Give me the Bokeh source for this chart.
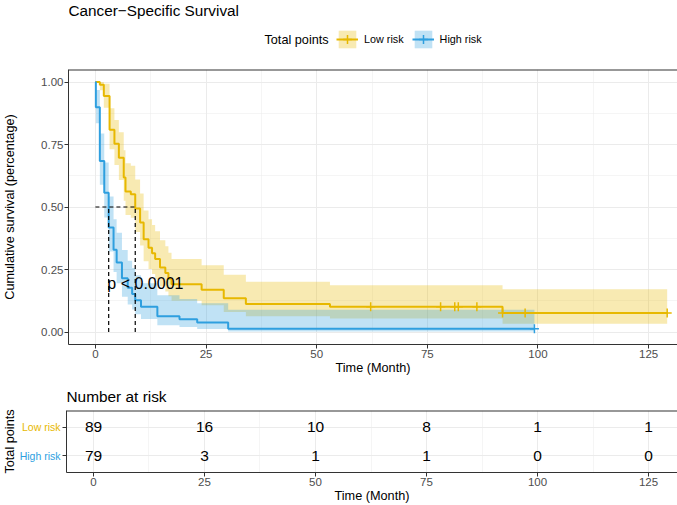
import numpy as np
from bokeh.plotting import figure
from bokeh.models import Range1d, FixedTicker, Label, Legend, LegendItem, Title, Span
from bokeh.layouts import column, row
from bokeh.embed import file_html
from bokeh.resources import INLINE
from bokeh.core.properties import value

# ---------------- data ----------------
title_text = "Cancer\u2212Specific Survival"
legend_title = "Total points"
group_names = ["Low risk", "High risk"]
colors = ["#E7B800", "#2E9FDF"]

low_time = [0, 1.0, 1.9, 3.2, 4.3, 5.3, 6.4, 6.8, 8.0, 9.0, 10.1, 10.9, 12.0, 12.8,
            13.5, 14.6, 15.8, 16.5, 17.2, 24.0, 29.0, 34.0, 53.0, 92.0]
low_surv = [1.0, 0.989, 0.944, 0.809, 0.753, 0.697, 0.618, 0.562, 0.551, 0.494, 0.438,
            0.371, 0.337, 0.315, 0.292, 0.258, 0.236, 0.213, 0.191, 0.169, 0.135, 0.112,
            0.101, 0.076]
low_lower = [1.0, 0.967, 0.897, 0.731, 0.668, 0.608, 0.525, 0.468, 0.457, 0.400, 0.346,
             0.283, 0.252, 0.232, 0.211, 0.182, 0.162, 0.143, 0.125, 0.107, 0.080, 0.063,
             0.054, 0.033]
low_upper = [1.0, 1.0, 0.993, 0.895, 0.848, 0.799, 0.727, 0.675, 0.665, 0.610, 0.554,
             0.486, 0.451, 0.428, 0.403, 0.367, 0.343, 0.317, 0.292, 0.267, 0.229, 0.201,
             0.187, 0.171]
low_end = 129.2
low_censor = [62.2, 78.0, 81.2, 82.0, 86.2, 92.0, 97.1, 129.2]

high_time = [0, 0.1, 1.0, 2.0, 3.0, 4.1, 4.8, 6.0, 7.3, 8.3, 9.0, 10.3, 14.0, 19.0, 23.0, 30.0]
high_surv = [1.0, 0.899, 0.684, 0.557, 0.418, 0.329, 0.278, 0.215, 0.177, 0.152, 0.127,
             0.101, 0.063, 0.051, 0.038, 0.013]
high_lower = [1.0, 0.835, 0.589, 0.458, 0.322, 0.240, 0.195, 0.141, 0.110, 0.090, 0.071,
              0.052, 0.027, 0.020, 0.0125, 0.002]
high_upper = [1.0, 0.968, 0.794, 0.678, 0.542, 0.451, 0.397, 0.328, 0.285, 0.256, 0.227,
              0.195, 0.147, 0.132, 0.115, 0.089]
high_end = 99.2
high_censor = [99.2]

median_low = 9.0
median_high = 3.0
pval_text = "p < 0.0001"

x_ticks = [0, 25, 50, 75, 100, 125]
x_minor = [12.5, 37.5, 62.5, 87.5, 112.5]
y_ticks = [0.0, 0.25, 0.5, 0.75, 1.0]
y_tick_labels = ["0.00", "0.25", "0.50", "0.75", "1.00"]
y_minor = [0.125, 0.375, 0.625, 0.875]

risk_times = [0, 25, 50, 75, 100, 125]
low_at_risk = [89, 16, 10, 8, 1, 1]
high_at_risk = [79, 3, 1, 1, 0, 0]

# ---------------- style / layout constants ----------------
FONT = "Liberation Sans"
X0, X1 = -6.08, 131.53
GRID = "#EBEBEB"
BORDER = "#333333"
TICKLAB = "#4D4D4D"
W = 677
LEFT = 66
HEAD_H = 61
MAIN_H = 317
TAB_H = 127
TAB_LEFT_W = 61


def style(p, y_top):
    # panel border: left/bottom from the axis lines, top from a span; the right
    # side of the panel is cut off by the picture edge in the reference
    p.outline_line_color = None
    p.background_fill_color = "white"
    p.border_fill_color = "white"
    p.add_layout(Span(location=y_top, dimension="width", line_color=BORDER, line_width=2))
    for ax in (p.xaxis[0], p.yaxis[0]):
        ax.major_tick_out = 4
        ax.major_tick_in = 0
        ax.minor_tick_out = 0
        ax.minor_tick_in = 0
        ax.minor_tick_line_color = None
        ax.major_tick_line_color = BORDER
        ax.axis_line_color = BORDER
        ax.major_label_text_font = FONT
        ax.major_label_text_font_size = "11.5px"
        ax.major_label_text_color = TICKLAB
        ax.major_label_standoff = 1
        ax.axis_label_text_font = FONT
        ax.axis_label_text_font_size = "12.7px"
        ax.axis_label_text_font_style = "normal"
        ax.axis_label_text_color = "black"
        ax.axis_label_standoff = 0
    for g in (p.xgrid[0], p.ygrid[0]):
        g.grid_line_color = GRID
        g.grid_line_width = 1
        g.minor_grid_line_color = GRID
        g.minor_grid_line_width = 0.5


def blank(width, height, xr, yr, left=0):
    f = figure(width=width, height=height, output_backend="svg", toolbar_location=None,
               x_range=xr, y_range=yr, x_axis_type=None, y_axis_type=None,
               min_border_left=left, min_border_right=0, min_border_top=0,
               min_border_bottom=0)
    f.outline_line_color = None
    f.background_fill_color = "white"
    f.border_fill_color = "white"
    return f


groups = [
    (low_time, low_surv, low_lower, low_upper, low_end, low_censor),
    (high_time, high_surv, high_lower, high_upper, high_end, high_censor),
]

# ---------------- header: title + legend (page pixel coordinates) ----------------
head = blank(W, HEAD_H, Range1d(LEFT, W), Range1d(HEAD_H, 0), left=LEFT)
head.add_layout(Label(x=LEFT, y=10, text=title_text, text_font=FONT,
                      text_font_size="15.3px", text_align="left", text_baseline="middle",
                      text_color="black"))
head.add_layout(Label(x=327, y=39, text=legend_title, text_font=FONT,
                      text_font_size="12.7px", text_align="right", text_baseline="middle",
                      text_color="black"))
items = []
for (t, s, lo, up, end, cens), g, col in zip(groups, group_names, colors):
    # hidden proxies that only provide the legend key glyphs
    rb = head.quad(left=[min(t)], right=[end], bottom=[min(lo)], top=[max(up)],
                   fill_color=col, fill_alpha=0.3, line_color=None, visible=False)
    rl = head.line(x=t, y=s, line_color=col, line_width=2, visible=False)
    rc = head.scatter(x=t, y=s, marker="cross", size=9, line_color=col, line_width=1.5,
                      visible=False)
    items.append(LegendItem(label=g, renderers=[rb, rl, rc]))
legend = Legend(items=items, location=(334 - LEFT, HEAD_H - 50), orientation="horizontal",
                glyph_width=22, glyph_height=22, label_standoff=6, spacing=8, padding=0,
                margin=0, border_line_color=None, background_fill_alpha=0,
                label_text_font=FONT, label_text_font_size="10.8px",
                label_text_color="black")
head.add_layout(legend, "center")

# ---------------- main survival plot ----------------
p1 = figure(width=W, height=MAIN_H, output_backend="svg", toolbar_location=None,
            x_range=Range1d(X0, X1), y_range=Range1d(-0.05, 1.05),
            min_border_left=LEFT, min_border_right=0, min_border_top=8,
            min_border_bottom=34)
style(p1, 1.05)
xt = FixedTicker(ticks=x_ticks, minor_ticks=x_minor)
yt = FixedTicker(ticks=y_ticks, minor_ticks=y_minor)
p1.xaxis[0].ticker = xt
p1.xgrid[0].ticker = xt
p1.yaxis[0].ticker = yt
p1.ygrid[0].ticker = yt
p1.yaxis[0].major_label_overrides = {t: s for t, s in zip(y_ticks, y_tick_labels)}
p1.xaxis[0].axis_label = "Time (Month)"
p1.yaxis[0].axis_label = "Cumulative survival (percentage)"
p1.yaxis[0].axis_label_standoff = 21

for (t, s, lo, up, end, cens), col in zip(groups, colors):
    tx = list(t) + [end]
    p1.varea_step(x=tx, y1=list(lo) + [lo[-1]], y2=list(up) + [up[-1]],
                  step_mode="after", fill_color=col, fill_alpha=0.3)
for (t, s, lo, up, end, cens), col in zip(groups, colors):
    tx = list(t) + [end]
    p1.step(x=tx, y=list(s) + [s[-1]], mode="after", line_color=col, line_width=2)
    idx = np.searchsorted(np.array(t), np.array(cens), side="right") - 1
    cy = [s[i] for i in idx]
    p1.scatter(x=cens, y=cy, marker="cross", size=9, line_color=col, line_width=1.5)

# median lines
p1.segment(x0=[0, median_high, median_low], y0=[0.5, 0, 0],
           x1=[median_low, median_high, median_low], y1=[0.5, 0.5, 0.5],
           line_color="black", line_width=1.2, line_dash="4 3")

p1.add_layout(Label(x=2.7, y=0.195, text=pval_text, text_font=FONT, text_font_size="16px",
                    text_align="left", text_baseline="middle", text_color="black"))

# ---------------- risk table ----------------
TAB_TOP = 32
TAB_BOT = 33
p2 = figure(width=W - TAB_LEFT_W, height=TAB_H, output_backend="svg",
            toolbar_location=None, x_range=Range1d(X0, X1), y_range=Range1d(0.4, 2.6),
            min_border_left=LEFT - TAB_LEFT_W, min_border_right=0, min_border_top=TAB_TOP,
            min_border_bottom=TAB_BOT, title="Number at risk")
style(p2, 2.6)
p2.title.text_font = FONT
p2.title.text_font_size = "15.4px"
p2.title.text_font_style = "normal"
p2.title.text_color = "black"
p2.title.align = "left"
p2.title.standoff = 11
p2.title.offset = 0
p2.xaxis[0].ticker = xt
p2.xgrid[0].ticker = xt
p2.ygrid[0].ticker = FixedTicker(ticks=[1, 2])
p2.yaxis[0].ticker = FixedTicker(ticks=[1, 2])
p2.yaxis[0].major_label_overrides = {1: "", 2: ""}
p2.yaxis[0].major_label_standoff = 0
p2.xaxis[0].axis_label = "Time (Month)"

rows = [2, 1]
for n_list, rw in zip([low_at_risk, high_at_risk], rows):
    p2.text(x=risk_times, y=[rw] * len(risk_times), text=[str(n) for n in n_list],
            text_font=value(FONT), text_font_size="15.5px", text_align="center",
            text_baseline="middle", text_color="black")

# left strip of the table: coloured row labels and the rotated strata title
STRIP_L = 17
left2 = blank(TAB_LEFT_W, TAB_H, Range1d(STRIP_L, TAB_LEFT_W), Range1d(0.4, 2.6),
              left=STRIP_L)
for g, rw, col in zip(group_names, rows, colors):
    left2.text(x=[TAB_LEFT_W - 1], y=[rw], text=[g], text_font=value(FONT),
               text_font_size="10.5px", text_align="right", text_baseline="middle",
               text_color=col)
left2.add_layout(Title(text=legend_title, text_font=FONT, text_font_size="12.7px",
                       text_font_style="normal", text_color="black", align="center",
                       standoff=1), "left")

layout = column(head, p1, row(left2, p2, spacing=0), spacing=0)
open("out.html", "w").write(file_html(layout, INLINE))
